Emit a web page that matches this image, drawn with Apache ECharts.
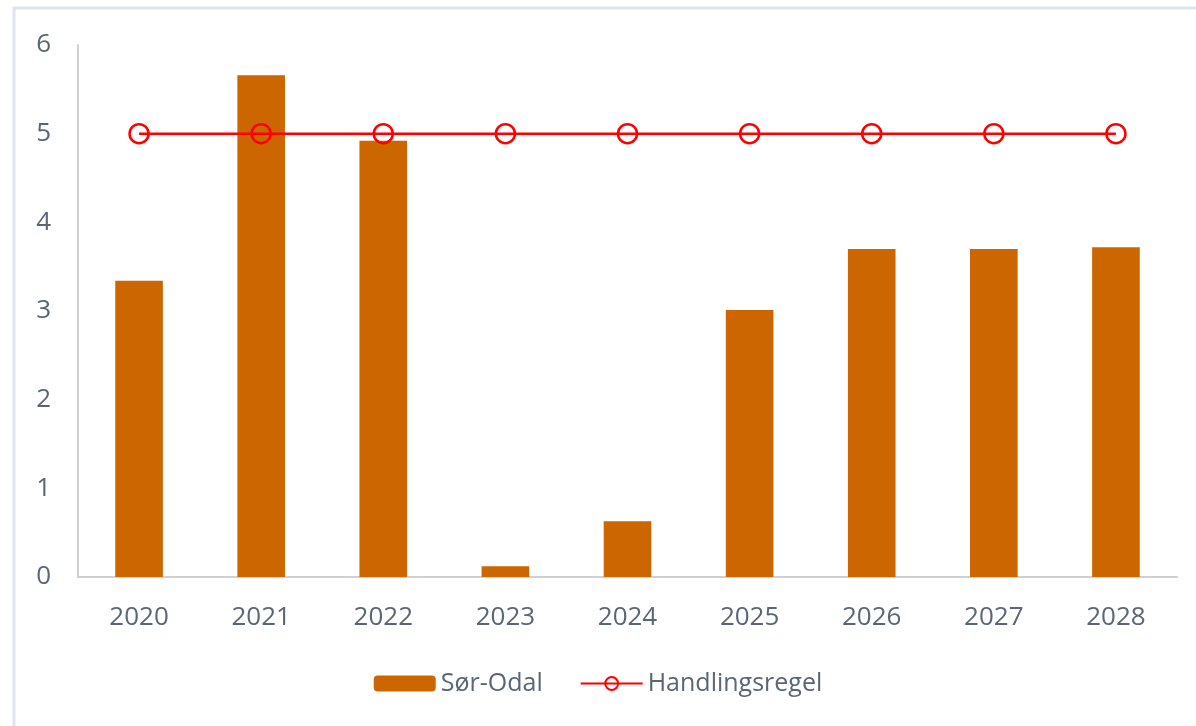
<!DOCTYPE html>
<html>
<head>
<meta charset="utf-8">
<script src="https://cdn.jsdelivr.net/npm/echarts@6/dist/echarts.min.js"></script>
<style>
  html, body { margin: 0; padding: 0; background: #fff; }
  #chart { width: 1196px; height: 726px; }
</style>
</head>
<body>
<div id="chart"></div>
<script>
const years = ['2020', '2021', '2022', '2023', '2024', '2025', '2026', '2027', '2028'];
const sorOdal = [3.34, 5.66, 4.92, 0.12, 0.63, 3.01, 3.70, 3.70, 3.72];
const handlingsregel = [5, 5, 5, 5, 5, 5, 5, 5, 5];

const chart = echarts.init(document.getElementById('chart'));
const textColor = '#5b6675';
const fontFamily = '"Open Sans", sans-serif';

chart.setOption({
    backgroundColor: '#fff',
    animation: false,
    graphic: [{
        type: 'rect',
        shape: { x: 14, y: 8, width: 1300, height: 800 },
        style: { fill: 'none', stroke: '#e0e5eb', lineWidth: 3 },
        silent: true
    }],
    grid: { left: 78, right: 19, top: 45, bottom: 149 },
    legend: {
        bottom: 25,
        left: 'center',
        itemWidth: 62,
        itemHeight: 16,
        itemGap: 37,
        textStyle: { color: textColor, fontSize: 25, fontFamily: fontFamily },
        data: ['Sør-Odal', 'Handlingsregel']
    },
    xAxis: {
        type: 'category',
        data: years,
        axisLine: { lineStyle: { color: '#d0d0d0', width: 2 } },
        axisTick: { show: false },
        axisLabel: { color: textColor, fontSize: 26, fontFamily: fontFamily, margin: 28 }
    },
    yAxis: {
        type: 'value',
        min: 0,
        max: 6,
        interval: 1,
        axisLine: { show: true, lineStyle: { color: '#d0d0d0', width: 2 } },
        axisTick: { show: false },
        splitLine: { show: false },
        axisLabel: { color: textColor, fontSize: 26, fontFamily: fontFamily, margin: 27 }
    },
    series: [{
        name: 'Sør-Odal',
        type: 'bar',
        data: sorOdal,
        barWidth: '39%',
        itemStyle: { color: '#cc6600' }
    }, {
        name: 'Handlingsregel',
        type: 'line',
        data: handlingsregel,
        symbol: 'circle',
        symbolSize: 19,
        lineStyle: { color: '#ff0000', width: 2.5 },
        itemStyle: { color: 'rgba(255,255,255,0)', borderColor: '#ff0000', borderWidth: 2.5 }
    }]
});
</script>
</body>
</html>
